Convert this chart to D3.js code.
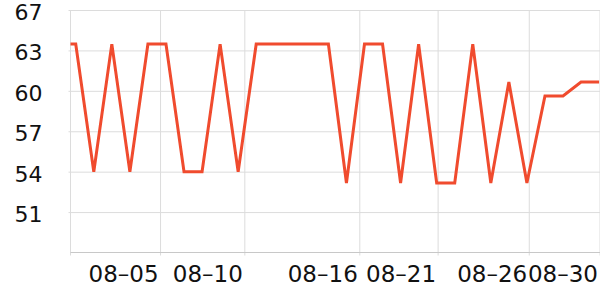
<!DOCTYPE html>
<html>
<head>
<meta charset="utf-8">
<script src="https://cdn.jsdelivr.net/npm/d3@7"></script>
<style>
  html, body { margin: 0; padding: 0; background: #fff; }
  svg { display: block; }
  text { font-family: "DejaVu Sans", sans-serif; }
</style>
</head>
<body>
<svg id="chart" width="600" height="300"></svg>
<script>
// ---- data ----
// day index of each point (index -1 lies just left of the visible window)
const dayIndex = [-1, 0, 1, 2, 3, 4, 5, 6, 7, 8, 9, 10, 11, 12, 13, 14, 15, 16, 17, 18, 19, 20, 21, 22, 23, 24, 25, 26, 27, 28, 29];
const values = [63.9, 63.9, 53.8, 63.9, 53.8, 63.9, 63.9, 53.8, 53.8, 63.9, 53.8, 63.9, 63.9, 63.9, 63.9, 63.9,
                52.9, 63.9, 63.9, 52.9, 63.9, 52.9, 52.9, 63.9, 52.9, 60.9, 52.9, 59.8, 59.8, 60.9, 60.9];
const xTickLabels = ["08–05", "08–10", "08–16", "08–21", "08–26", "08–30"];
const xTickIndex = [4.70, 9.37, 15.74, 20.08, 25.13, 29.05];
const yDomain = [47.4, 66.6];
const yTickValues = [50.6, 53.8, 57.0, 60.2, 63.4, 66.6];

// ---- layout ----
const svg = d3.select("#chart");
const mLeft = 70.5, mRight = 600, mTop = 10, mBottom = 252.5;

const x = d3.scaleLinear().domain([-0.29, 29.05]).range([mLeft, mRight]);
const y = d3.scaleLinear().domain(yDomain).range([mBottom, mTop]);

// horizontal grid + y labels
const yAxis = d3.axisLeft(y).tickValues(yTickValues).tickSize(-(mRight - mLeft)).tickPadding(28)
  .tickFormat(d => d3.format(".0f")(d));
const gy = svg.append("g").attr("transform", `translate(${mLeft},0)`).call(yAxis);
gy.select(".domain").remove();
gy.selectAll(".tick line").attr("stroke", "#dcdcdc").attr("x1", -2).attr("stroke-width", 1);
gy.selectAll(".tick text").attr("font-size", 22).attr("fill", "#111").attr("font-family", "DejaVu Sans")
  .attr("dy", "0.43em");

// vertical grid
svg.append("g").selectAll("line").data(xTickIndex).join("line")
  .attr("x1", d => x(d)).attr("x2", d => x(d))
  .attr("y1", mTop).attr("y2", mBottom + 3)
  .attr("stroke", "#dcdcdc").attr("stroke-width", 1);
// left vertical line
svg.append("line").attr("x1", mLeft).attr("x2", mLeft).attr("y1", mTop).attr("y2", mBottom + 3)
  .attr("stroke", "#dcdcdc");

// x axis baseline
svg.append("line").attr("x1", mLeft).attr("x2", mRight).attr("y1", mBottom).attr("y2", mBottom)
  .attr("stroke", "#c8c8c8").attr("stroke-width", 1);

// x labels
svg.append("g").selectAll("text").data(xTickIndex).join("text")
  .attr("x", d => x(d) - 2).attr("y", 282)
  .attr("text-anchor", "end")
  .attr("font-size", 23).attr("fill", "#111")
  .text((d, i) => xTickLabels[i]);

// clip
svg.append("clipPath").attr("id", "clip").append("rect")
  .attr("x", mLeft).attr("y", 0).attr("width", mRight - mLeft).attr("height", 300);

const line = d3.line().x((d, i) => x(dayIndex[i])).y(d => y(d));
svg.append("path").datum(values)
  .attr("clip-path", "url(#clip)")
  .attr("d", line)
  .attr("fill", "none")
  .attr("stroke", "#f04b2e")
  .attr("stroke-width", 3)
  .attr("stroke-linejoin", "miter");
</script>
</body>
</html>
